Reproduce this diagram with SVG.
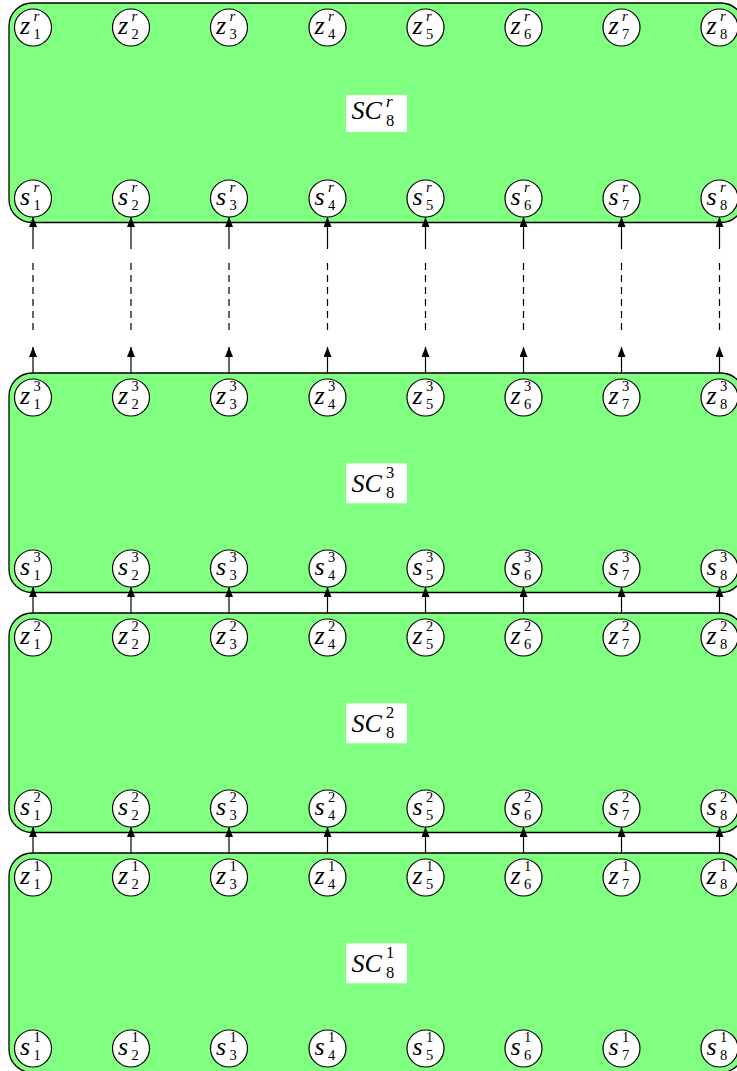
<svg xmlns="http://www.w3.org/2000/svg" width="737" height="1071" viewBox="0 0 737 1071">
<style>
.blk{fill:#80ff80;stroke:#000;stroke-width:1.3}
.lbl{fill:#fff;stroke:none}
.nd{fill:#fff;stroke:#000;stroke-width:1.2}
text{font-family:'Liberation Serif','Times New Roman','DejaVu Serif',serif;fill:#000}
.m{font-style:italic;font-size:26px}
.big{font-style:italic;font-size:26px}
.si{font-style:italic;font-size:17px}
.sd{font-size:16.5px}
.ni{font-style:italic;font-size:15px}
.nn{font-size:14.5px}
.ar2{stroke:#000;stroke-width:1.2;fill:none;marker-end:url(#ah)}
.ds{stroke:#000;stroke-width:1.2;fill:none;stroke-dasharray:7 5}
</style>
<defs>
<marker id="ah" markerUnits="userSpaceOnUse" markerWidth="10" markerHeight="8" refX="10" refY="4" orient="auto">
<path d="M0,0 L10,4 L0,8 Z" fill="#000"/>
</marker>
</defs>

<!-- blocks -->
<g id="blockR">
<rect class="blk" x="9" y="3" width="735" height="219.5" rx="23"/>
<rect class="lbl" x="346" y="95" width="61" height="37"/>
<text class="big" x="351.5" y="118.5">SC</text><text class="si" x="386" y="106.5">r</text><text class="sd" x="386" y="126">8</text>
</g>
<g id="block3">
<rect class="blk" x="9" y="373" width="735" height="219.5" rx="23"/>
<rect class="lbl" x="346" y="463.25" width="61" height="40"/>
<text class="big" x="351.5" y="491.6">SC</text><text class="sd" x="386" y="477.7">3</text><text class="sd" x="386" y="498.2">8</text>
</g>
<g id="block2">
<rect class="blk" x="9" y="613" width="735" height="219.5" rx="23"/>
<rect class="lbl" x="346" y="703.25" width="61" height="40"/>
<text class="big" x="351.5" y="731.6">SC</text><text class="sd" x="386" y="717.7">2</text><text class="sd" x="386" y="738.2">8</text>
</g>
<g id="block1">
<rect class="blk" x="9" y="853" width="735" height="219.5" rx="23"/>
<rect class="lbl" x="346" y="943.25" width="61" height="40"/>
<text class="big" x="351.5" y="971.6">SC</text><text class="sd" x="386" y="957.7">1</text><text class="sd" x="386" y="978.2">8</text>
</g>

<!-- connectors -->
<g id="connectors">
<g id="c1"><line class="ar2" x1="33" y1="249" x2="33" y2="217"/><line class="ds" x1="33" y1="263" x2="33" y2="331"/><line class="ar2" x1="33" y1="373" x2="33" y2="347"/><line class="ar2" x1="33" y1="613" x2="33" y2="587"/><line class="ar2" x1="33" y1="853" x2="33" y2="827"/></g>
<g id="c2"><line class="ar2" x1="131" y1="249" x2="131" y2="217"/><line class="ds" x1="131" y1="263" x2="131" y2="331"/><line class="ar2" x1="131" y1="373" x2="131" y2="347"/><line class="ar2" x1="131" y1="613" x2="131" y2="587"/><line class="ar2" x1="131" y1="853" x2="131" y2="827"/></g>
<g id="c3"><line class="ar2" x1="229" y1="249" x2="229" y2="217"/><line class="ds" x1="229" y1="263" x2="229" y2="331"/><line class="ar2" x1="229" y1="373" x2="229" y2="347"/><line class="ar2" x1="229" y1="613" x2="229" y2="587"/><line class="ar2" x1="229" y1="853" x2="229" y2="827"/></g>
<g id="c4"><line class="ar2" x1="327.5" y1="249" x2="327.5" y2="217"/><line class="ds" x1="327.5" y1="263" x2="327.5" y2="331"/><line class="ar2" x1="327.5" y1="373" x2="327.5" y2="347"/><line class="ar2" x1="327.5" y1="613" x2="327.5" y2="587"/><line class="ar2" x1="327.5" y1="853" x2="327.5" y2="827"/></g>
<g id="c5"><line class="ar2" x1="425.5" y1="249" x2="425.5" y2="217"/><line class="ds" x1="425.5" y1="263" x2="425.5" y2="331"/><line class="ar2" x1="425.5" y1="373" x2="425.5" y2="347"/><line class="ar2" x1="425.5" y1="613" x2="425.5" y2="587"/><line class="ar2" x1="425.5" y1="853" x2="425.5" y2="827"/></g>
<g id="c6"><line class="ar2" x1="523.5" y1="249" x2="523.5" y2="217"/><line class="ds" x1="523.5" y1="263" x2="523.5" y2="331"/><line class="ar2" x1="523.5" y1="373" x2="523.5" y2="347"/><line class="ar2" x1="523.5" y1="613" x2="523.5" y2="587"/><line class="ar2" x1="523.5" y1="853" x2="523.5" y2="827"/></g>
<g id="c7"><line class="ar2" x1="621.5" y1="249" x2="621.5" y2="217"/><line class="ds" x1="621.5" y1="263" x2="621.5" y2="331"/><line class="ar2" x1="621.5" y1="373" x2="621.5" y2="347"/><line class="ar2" x1="621.5" y1="613" x2="621.5" y2="587"/><line class="ar2" x1="621.5" y1="853" x2="621.5" y2="827"/></g>
<g id="c8"><line class="ar2" x1="719.5" y1="249" x2="719.5" y2="217"/><line class="ds" x1="719.5" y1="263" x2="719.5" y2="331"/><line class="ar2" x1="719.5" y1="373" x2="719.5" y2="347"/><line class="ar2" x1="719.5" y1="613" x2="719.5" y2="587"/><line class="ar2" x1="719.5" y1="853" x2="719.5" y2="827"/></g>
</g>

<!-- layer r nodes -->
<g id="z1r" transform="translate(33,27.5)"><circle class="nd" r="18.5"/><text class="m" x="-13" y="6">z</text><text class="ni" x="0.5" y="-6.5">r</text><text class="nn" x="0.5" y="11.5">1</text></g>
<g id="z2r" transform="translate(131,27.5)"><circle class="nd" r="18.5"/><text class="m" x="-13" y="6">z</text><text class="ni" x="0.5" y="-6.5">r</text><text class="nn" x="0.5" y="11.5">2</text></g>
<g id="z3r" transform="translate(229,27.5)"><circle class="nd" r="18.5"/><text class="m" x="-13" y="6">z</text><text class="ni" x="0.5" y="-6.5">r</text><text class="nn" x="0.5" y="11.5">3</text></g>
<g id="z4r" transform="translate(327.5,27.5)"><circle class="nd" r="18.5"/><text class="m" x="-13" y="6">z</text><text class="ni" x="0.5" y="-6.5">r</text><text class="nn" x="0.5" y="11.5">4</text></g>
<g id="z5r" transform="translate(425.5,27.5)"><circle class="nd" r="18.5"/><text class="m" x="-13" y="6">z</text><text class="ni" x="0.5" y="-6.5">r</text><text class="nn" x="0.5" y="11.5">5</text></g>
<g id="z6r" transform="translate(523.5,27.5)"><circle class="nd" r="18.5"/><text class="m" x="-13" y="6">z</text><text class="ni" x="0.5" y="-6.5">r</text><text class="nn" x="0.5" y="11.5">6</text></g>
<g id="z7r" transform="translate(621.5,27.5)"><circle class="nd" r="18.5"/><text class="m" x="-13" y="6">z</text><text class="ni" x="0.5" y="-6.5">r</text><text class="nn" x="0.5" y="11.5">7</text></g>
<g id="z8r" transform="translate(719.5,27.5)"><circle class="nd" r="18.5"/><text class="m" x="-13" y="6">z</text><text class="ni" x="0.5" y="-6.5">r</text><text class="nn" x="0.5" y="11.5">8</text></g>
<g id="s1r" transform="translate(33,198.5)"><circle class="nd" r="18.5"/><text class="m" x="-13" y="6">s</text><text class="ni" x="0.5" y="-6.5">r</text><text class="nn" x="0.5" y="11.5">1</text></g>
<g id="s2r" transform="translate(131,198.5)"><circle class="nd" r="18.5"/><text class="m" x="-13" y="6">s</text><text class="ni" x="0.5" y="-6.5">r</text><text class="nn" x="0.5" y="11.5">2</text></g>
<g id="s3r" transform="translate(229,198.5)"><circle class="nd" r="18.5"/><text class="m" x="-13" y="6">s</text><text class="ni" x="0.5" y="-6.5">r</text><text class="nn" x="0.5" y="11.5">3</text></g>
<g id="s4r" transform="translate(327.5,198.5)"><circle class="nd" r="18.5"/><text class="m" x="-13" y="6">s</text><text class="ni" x="0.5" y="-6.5">r</text><text class="nn" x="0.5" y="11.5">4</text></g>
<g id="s5r" transform="translate(425.5,198.5)"><circle class="nd" r="18.5"/><text class="m" x="-13" y="6">s</text><text class="ni" x="0.5" y="-6.5">r</text><text class="nn" x="0.5" y="11.5">5</text></g>
<g id="s6r" transform="translate(523.5,198.5)"><circle class="nd" r="18.5"/><text class="m" x="-13" y="6">s</text><text class="ni" x="0.5" y="-6.5">r</text><text class="nn" x="0.5" y="11.5">6</text></g>
<g id="s7r" transform="translate(621.5,198.5)"><circle class="nd" r="18.5"/><text class="m" x="-13" y="6">s</text><text class="ni" x="0.5" y="-6.5">r</text><text class="nn" x="0.5" y="11.5">7</text></g>
<g id="s8r" transform="translate(719.5,198.5)"><circle class="nd" r="18.5"/><text class="m" x="-13" y="6">s</text><text class="ni" x="0.5" y="-6.5">r</text><text class="nn" x="0.5" y="11.5">8</text></g>

<!-- layer 3 nodes -->
<g id="z13" transform="translate(33,397.5)"><circle class="nd" r="18.5"/><text class="m" x="-13" y="6">z</text><text class="nn" x="0.5" y="-6.5">3</text><text class="nn" x="0.5" y="11.5">1</text></g>
<g id="z23" transform="translate(131,397.5)"><circle class="nd" r="18.5"/><text class="m" x="-13" y="6">z</text><text class="nn" x="0.5" y="-6.5">3</text><text class="nn" x="0.5" y="11.5">2</text></g>
<g id="z33" transform="translate(229,397.5)"><circle class="nd" r="18.5"/><text class="m" x="-13" y="6">z</text><text class="nn" x="0.5" y="-6.5">3</text><text class="nn" x="0.5" y="11.5">3</text></g>
<g id="z43" transform="translate(327.5,397.5)"><circle class="nd" r="18.5"/><text class="m" x="-13" y="6">z</text><text class="nn" x="0.5" y="-6.5">3</text><text class="nn" x="0.5" y="11.5">4</text></g>
<g id="z53" transform="translate(425.5,397.5)"><circle class="nd" r="18.5"/><text class="m" x="-13" y="6">z</text><text class="nn" x="0.5" y="-6.5">3</text><text class="nn" x="0.5" y="11.5">5</text></g>
<g id="z63" transform="translate(523.5,397.5)"><circle class="nd" r="18.5"/><text class="m" x="-13" y="6">z</text><text class="nn" x="0.5" y="-6.5">3</text><text class="nn" x="0.5" y="11.5">6</text></g>
<g id="z73" transform="translate(621.5,397.5)"><circle class="nd" r="18.5"/><text class="m" x="-13" y="6">z</text><text class="nn" x="0.5" y="-6.5">3</text><text class="nn" x="0.5" y="11.5">7</text></g>
<g id="z83" transform="translate(719.5,397.5)"><circle class="nd" r="18.5"/><text class="m" x="-13" y="6">z</text><text class="nn" x="0.5" y="-6.5">3</text><text class="nn" x="0.5" y="11.5">8</text></g>
<g id="s13" transform="translate(33,568.5)"><circle class="nd" r="18.5"/><text class="m" x="-13" y="6">s</text><text class="nn" x="0.5" y="-6.5">3</text><text class="nn" x="0.5" y="11.5">1</text></g>
<g id="s23" transform="translate(131,568.5)"><circle class="nd" r="18.5"/><text class="m" x="-13" y="6">s</text><text class="nn" x="0.5" y="-6.5">3</text><text class="nn" x="0.5" y="11.5">2</text></g>
<g id="s33" transform="translate(229,568.5)"><circle class="nd" r="18.5"/><text class="m" x="-13" y="6">s</text><text class="nn" x="0.5" y="-6.5">3</text><text class="nn" x="0.5" y="11.5">3</text></g>
<g id="s43" transform="translate(327.5,568.5)"><circle class="nd" r="18.5"/><text class="m" x="-13" y="6">s</text><text class="nn" x="0.5" y="-6.5">3</text><text class="nn" x="0.5" y="11.5">4</text></g>
<g id="s53" transform="translate(425.5,568.5)"><circle class="nd" r="18.5"/><text class="m" x="-13" y="6">s</text><text class="nn" x="0.5" y="-6.5">3</text><text class="nn" x="0.5" y="11.5">5</text></g>
<g id="s63" transform="translate(523.5,568.5)"><circle class="nd" r="18.5"/><text class="m" x="-13" y="6">s</text><text class="nn" x="0.5" y="-6.5">3</text><text class="nn" x="0.5" y="11.5">6</text></g>
<g id="s73" transform="translate(621.5,568.5)"><circle class="nd" r="18.5"/><text class="m" x="-13" y="6">s</text><text class="nn" x="0.5" y="-6.5">3</text><text class="nn" x="0.5" y="11.5">7</text></g>
<g id="s83" transform="translate(719.5,568.5)"><circle class="nd" r="18.5"/><text class="m" x="-13" y="6">s</text><text class="nn" x="0.5" y="-6.5">3</text><text class="nn" x="0.5" y="11.5">8</text></g>

<!-- layer 2 nodes -->
<g id="z12" transform="translate(33,637.5)"><circle class="nd" r="18.5"/><text class="m" x="-13" y="6">z</text><text class="nn" x="0.5" y="-6.5">2</text><text class="nn" x="0.5" y="11.5">1</text></g>
<g id="z22" transform="translate(131,637.5)"><circle class="nd" r="18.5"/><text class="m" x="-13" y="6">z</text><text class="nn" x="0.5" y="-6.5">2</text><text class="nn" x="0.5" y="11.5">2</text></g>
<g id="z32" transform="translate(229,637.5)"><circle class="nd" r="18.5"/><text class="m" x="-13" y="6">z</text><text class="nn" x="0.5" y="-6.5">2</text><text class="nn" x="0.5" y="11.5">3</text></g>
<g id="z42" transform="translate(327.5,637.5)"><circle class="nd" r="18.5"/><text class="m" x="-13" y="6">z</text><text class="nn" x="0.5" y="-6.5">2</text><text class="nn" x="0.5" y="11.5">4</text></g>
<g id="z52" transform="translate(425.5,637.5)"><circle class="nd" r="18.5"/><text class="m" x="-13" y="6">z</text><text class="nn" x="0.5" y="-6.5">2</text><text class="nn" x="0.5" y="11.5">5</text></g>
<g id="z62" transform="translate(523.5,637.5)"><circle class="nd" r="18.5"/><text class="m" x="-13" y="6">z</text><text class="nn" x="0.5" y="-6.5">2</text><text class="nn" x="0.5" y="11.5">6</text></g>
<g id="z72" transform="translate(621.5,637.5)"><circle class="nd" r="18.5"/><text class="m" x="-13" y="6">z</text><text class="nn" x="0.5" y="-6.5">2</text><text class="nn" x="0.5" y="11.5">7</text></g>
<g id="z82" transform="translate(719.5,637.5)"><circle class="nd" r="18.5"/><text class="m" x="-13" y="6">z</text><text class="nn" x="0.5" y="-6.5">2</text><text class="nn" x="0.5" y="11.5">8</text></g>
<g id="s12" transform="translate(33,808.5)"><circle class="nd" r="18.5"/><text class="m" x="-13" y="6">s</text><text class="nn" x="0.5" y="-6.5">2</text><text class="nn" x="0.5" y="11.5">1</text></g>
<g id="s22" transform="translate(131,808.5)"><circle class="nd" r="18.5"/><text class="m" x="-13" y="6">s</text><text class="nn" x="0.5" y="-6.5">2</text><text class="nn" x="0.5" y="11.5">2</text></g>
<g id="s32" transform="translate(229,808.5)"><circle class="nd" r="18.5"/><text class="m" x="-13" y="6">s</text><text class="nn" x="0.5" y="-6.5">2</text><text class="nn" x="0.5" y="11.5">3</text></g>
<g id="s42" transform="translate(327.5,808.5)"><circle class="nd" r="18.5"/><text class="m" x="-13" y="6">s</text><text class="nn" x="0.5" y="-6.5">2</text><text class="nn" x="0.5" y="11.5">4</text></g>
<g id="s52" transform="translate(425.5,808.5)"><circle class="nd" r="18.5"/><text class="m" x="-13" y="6">s</text><text class="nn" x="0.5" y="-6.5">2</text><text class="nn" x="0.5" y="11.5">5</text></g>
<g id="s62" transform="translate(523.5,808.5)"><circle class="nd" r="18.5"/><text class="m" x="-13" y="6">s</text><text class="nn" x="0.5" y="-6.5">2</text><text class="nn" x="0.5" y="11.5">6</text></g>
<g id="s72" transform="translate(621.5,808.5)"><circle class="nd" r="18.5"/><text class="m" x="-13" y="6">s</text><text class="nn" x="0.5" y="-6.5">2</text><text class="nn" x="0.5" y="11.5">7</text></g>
<g id="s82" transform="translate(719.5,808.5)"><circle class="nd" r="18.5"/><text class="m" x="-13" y="6">s</text><text class="nn" x="0.5" y="-6.5">2</text><text class="nn" x="0.5" y="11.5">8</text></g>

<!-- layer 1 nodes -->
<g id="z11" transform="translate(33,877.5)"><circle class="nd" r="18.5"/><text class="m" x="-13" y="6">z</text><text class="nn" x="0.5" y="-6.5">1</text><text class="nn" x="0.5" y="11.5">1</text></g>
<g id="z21" transform="translate(131,877.5)"><circle class="nd" r="18.5"/><text class="m" x="-13" y="6">z</text><text class="nn" x="0.5" y="-6.5">1</text><text class="nn" x="0.5" y="11.5">2</text></g>
<g id="z31" transform="translate(229,877.5)"><circle class="nd" r="18.5"/><text class="m" x="-13" y="6">z</text><text class="nn" x="0.5" y="-6.5">1</text><text class="nn" x="0.5" y="11.5">3</text></g>
<g id="z41" transform="translate(327.5,877.5)"><circle class="nd" r="18.5"/><text class="m" x="-13" y="6">z</text><text class="nn" x="0.5" y="-6.5">1</text><text class="nn" x="0.5" y="11.5">4</text></g>
<g id="z51" transform="translate(425.5,877.5)"><circle class="nd" r="18.5"/><text class="m" x="-13" y="6">z</text><text class="nn" x="0.5" y="-6.5">1</text><text class="nn" x="0.5" y="11.5">5</text></g>
<g id="z61" transform="translate(523.5,877.5)"><circle class="nd" r="18.5"/><text class="m" x="-13" y="6">z</text><text class="nn" x="0.5" y="-6.5">1</text><text class="nn" x="0.5" y="11.5">6</text></g>
<g id="z71" transform="translate(621.5,877.5)"><circle class="nd" r="18.5"/><text class="m" x="-13" y="6">z</text><text class="nn" x="0.5" y="-6.5">1</text><text class="nn" x="0.5" y="11.5">7</text></g>
<g id="z81" transform="translate(719.5,877.5)"><circle class="nd" r="18.5"/><text class="m" x="-13" y="6">z</text><text class="nn" x="0.5" y="-6.5">1</text><text class="nn" x="0.5" y="11.5">8</text></g>
<g id="s11" transform="translate(33,1048.5)"><circle class="nd" r="18.5"/><text class="m" x="-13" y="6">s</text><text class="nn" x="0.5" y="-6.5">1</text><text class="nn" x="0.5" y="11.5">1</text></g>
<g id="s21" transform="translate(131,1048.5)"><circle class="nd" r="18.5"/><text class="m" x="-13" y="6">s</text><text class="nn" x="0.5" y="-6.5">1</text><text class="nn" x="0.5" y="11.5">2</text></g>
<g id="s31" transform="translate(229,1048.5)"><circle class="nd" r="18.5"/><text class="m" x="-13" y="6">s</text><text class="nn" x="0.5" y="-6.5">1</text><text class="nn" x="0.5" y="11.5">3</text></g>
<g id="s41" transform="translate(327.5,1048.5)"><circle class="nd" r="18.5"/><text class="m" x="-13" y="6">s</text><text class="nn" x="0.5" y="-6.5">1</text><text class="nn" x="0.5" y="11.5">4</text></g>
<g id="s51" transform="translate(425.5,1048.5)"><circle class="nd" r="18.5"/><text class="m" x="-13" y="6">s</text><text class="nn" x="0.5" y="-6.5">1</text><text class="nn" x="0.5" y="11.5">5</text></g>
<g id="s61" transform="translate(523.5,1048.5)"><circle class="nd" r="18.5"/><text class="m" x="-13" y="6">s</text><text class="nn" x="0.5" y="-6.5">1</text><text class="nn" x="0.5" y="11.5">6</text></g>
<g id="s71" transform="translate(621.5,1048.5)"><circle class="nd" r="18.5"/><text class="m" x="-13" y="6">s</text><text class="nn" x="0.5" y="-6.5">1</text><text class="nn" x="0.5" y="11.5">7</text></g>
<g id="s81" transform="translate(719.5,1048.5)"><circle class="nd" r="18.5"/><text class="m" x="-13" y="6">s</text><text class="nn" x="0.5" y="-6.5">1</text><text class="nn" x="0.5" y="11.5">8</text></g>
</svg>
